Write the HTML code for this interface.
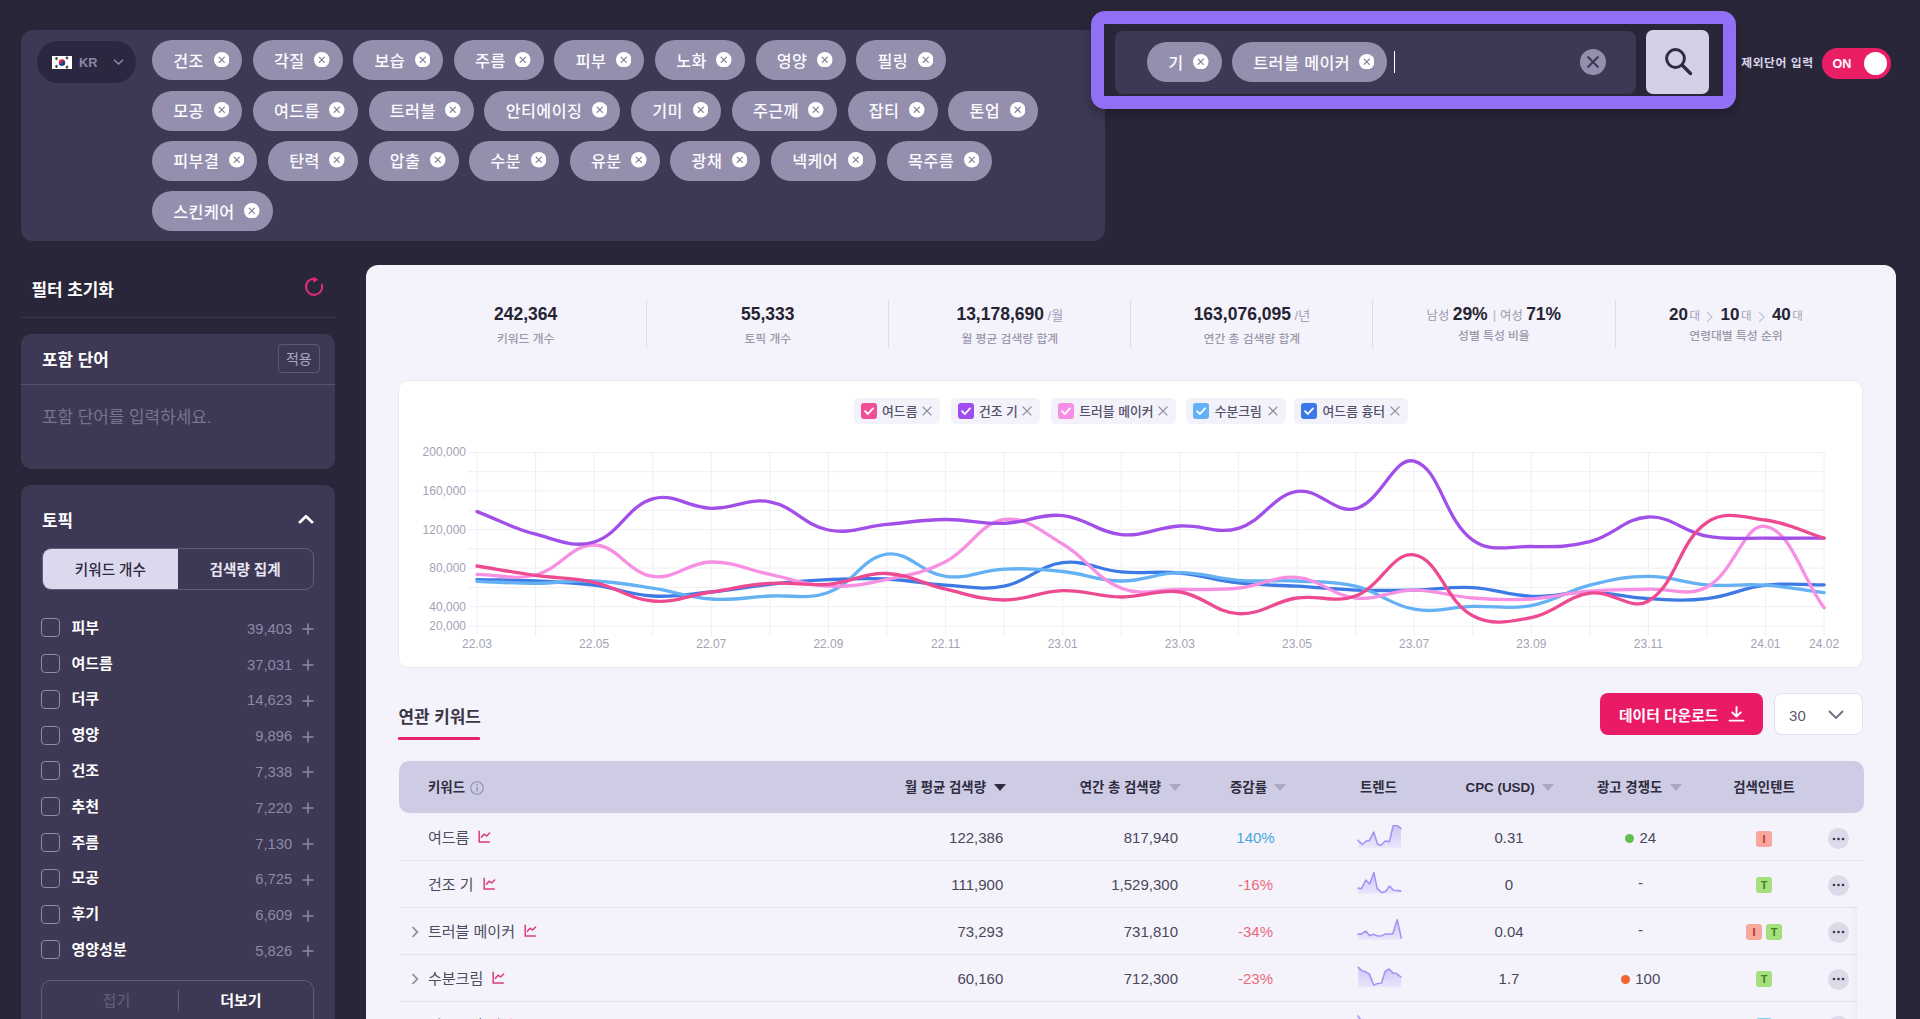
<!DOCTYPE html><html lang="ko"><head><meta charset="utf-8"><title>keyword</title><style>
*{box-sizing:border-box;margin:0;padding:0}
html,body{width:1920px;height:1019px;overflow:hidden}
body{background:#2a2639;font-family:"Liberation Sans", "Noto Sans CJK KR", sans-serif;position:relative;color:#fff}
body>*{position:absolute}
#kwpanel{left:21px;top:30px;width:1083.6px;height:211px;background:#3d3854;border-radius:12px}
#krpill{left:37px;top:40.5px;width:99px;height:42px;border-radius:21px;background:#2b2740}
#krpill .flag{position:absolute;left:14.5px;top:15px;width:20px;height:13px;line-height:0}
#krpill .kr{position:absolute;left:42px;top:13.8px;font-size:12.8px;line-height:18px;color:#8a85a5;font-weight:700;font-family:"Liberation Sans",sans-serif}
#krpill .chev{position:absolute;left:76px;top:18.5px}
.tag{position:absolute;height:40px;border-radius:20px;background:#958fae;display:flex;align-items:center;padding-left:21.3px;font-size:16.2px;letter-spacing:0.43px;font-weight:500;color:#fbfaff;white-space:nowrap;line-height:20px}
.tag span{display:block;position:relative;top:0.7px}
.tag svg{position:absolute;right:13px;top:11.7px}
#ring{left:1091px;top:11px;width:645px;height:97.5px;border-radius:14px;background:#9170f6;box-shadow:0 6px 12px rgba(0,0,0,.25)}
#ringin{left:1104.4px;top:24.2px;width:618.6px;height:71.4px;background:#2a2639}
#sinput{left:1114.5px;top:30.7px;width:521.5px;height:63.4px;border-radius:8px;background:#3d3854}
#cursor{left:1393.5px;top:51px;width:1.6px;height:21.5px;background:#fff}
#sclear{left:1579.5px;top:49px;width:26px;height:26px;line-height:0}
#sbtn{left:1646px;top:30.3px;width:63.2px;height:63.6px;border-radius:7px;background:#d4d1e7;padding:16.5px 0 0 17.5px;line-height:0}
#exlbl{left:1741.3px;top:53.6px;font-size:11.8px;letter-spacing:0.55px;line-height:18px;font-weight:700;color:#d9d6e8;white-space:nowrap}
#toggle{left:1822px;top:47.5px;width:69px;height:31.3px;border-radius:16px;background:#ea1e65}
#toggle span{position:absolute;left:10.5px;top:8px;font-size:12.6px;line-height:17px;font-weight:700;color:#fff;font-family:"Liberation Sans",sans-serif}
#toggle i{position:absolute;left:41.6px;top:4px;width:23.2px;height:23.2px;border-radius:50%;background:#fff}

#ftitle{left:31.5px;top:279px;font-size:16.9px;line-height:24px;font-weight:700;color:#fff;white-space:nowrap}
#freset{left:304px;top:277px;line-height:0}
#fline{left:20.5px;top:316.7px;width:315px;height:1px;background:#3b3751}
#incbox{left:21px;top:333.5px;width:313.8px;height:135.5px;border-radius:10px;background:#3d3854}
#incbox .hd{position:absolute;left:21px;top:15.5px;font-size:16.9px;line-height:24px;font-weight:700;color:#fff}
#incbox .apply{position:absolute;left:257px;top:10px;width:41.7px;height:29.4px;border:1px solid #5d5877;border-radius:4px;font-size:14px;line-height:29px;text-align:center;color:#aaa6c0}
#incbox .sep{position:absolute;left:0;top:50.6px;width:100%;height:1px;background:#57526f}
#incbox .ph{position:absolute;left:21px;top:72px;font-size:16.9px;line-height:24px;color:#78738f;white-space:nowrap}
#topic{left:21.3px;top:484.7px;width:313.5px;height:560px;border-radius:10px;background:#3d3854}
#tptitle{left:42px;top:510px;font-size:16.9px;line-height:24px;font-weight:700;color:#fff}
#tpchev{left:297.6px;top:513.6px}
#seg{left:42px;top:548px;width:271.5px;height:42px;border:1px solid #625d7c;border-radius:9px;overflow:hidden;display:flex}
#seg div{width:50%;height:100%;font-size:14.6px;line-height:43.5px;text-align:center;white-space:nowrap}
#seg .on{background:#dcd9ee;color:#2d2940;font-weight:500}
#seg .off{color:#e8e6f2;font-weight:700}
.trow{left:41px;width:273px;height:26px}
.trow .cb{position:absolute;left:0;top:3.5px;width:19px;height:19px;border:1.5px solid #8e89a8;border-radius:4px}
.trow b{position:absolute;left:30.5px;top:0;font-size:15px;line-height:26px;font-weight:700;color:#fff;white-space:nowrap}
.trow .num{position:absolute;right:21.8px;top:1px;font-size:14.8px;line-height:26px;color:#8e89a8}
.trow .plus{position:absolute;right:0.5px;top:8.5px}
#morebtn{left:41px;top:980px;width:272.5px;height:60px;border:1px solid #625d7c;border-radius:10px}
#morebtn i{position:absolute;left:136px;top:9px;width:1px;height:21px;background:#625d7c}
#morebtn span{position:absolute;top:7.6px;font-size:15px;line-height:24px;width:80px;text-align:center}
#morebtn .l{left:34.4px;color:#5f5a78;font-weight:500}
#morebtn .r{left:158.9px;color:#fff;font-weight:700}

#main{left:366.2px;top:265px;width:1529.7px;height:800px;border-radius:12px;background:#f4f3fb}
.stat{top:300px;width:242px;height:48px;text-align:center;color:#2a2838}
.stat .sv{position:absolute;left:0;top:3px;width:100%;font-size:17.5px;line-height:22px;white-space:nowrap}
.stat .sv b{font-weight:700;color:#262433}
.stat .sv b.k{font-size:17px}
.stat .sv small{font-size:13px;color:#a19fb2;font-weight:400}
.stat .sv .lt{font-size:12.3px;color:#9b99ab}
.stat .sv .bar{font-size:13px;color:#b4b2c4;margin:0 4px 0 5px;position:relative;top:-1px}
.stat .sv .dae{font-size:11.5px;color:#a3a1b3;margin-left:1.5px}
.stat .sv .gt{margin:0 7.4px 0 6px;position:relative;top:2.5px}
.stat .sl{position:absolute;left:0;width:100%;font-size:11.8px;line-height:16px;color:#9a98ac;font-weight:500;white-space:nowrap}
.vdiv{top:300px;width:1px;height:47.5px;background:#dddbe8}
#card{left:398.3px;top:380.3px;width:1465.1px;height:287.6px;background:#fff;border:1px solid #eae8f3;border-radius:10px}
.lg{top:397.8px;height:26.2px;border-radius:5px;background:#f3f2fa;display:flex;align-items:center;padding-left:7px;font-size:12.8px;font-weight:500;color:#54516a;white-space:nowrap}
.lg svg{flex:none}
.lg span{margin-left:5.3px;line-height:16px;position:relative;top:1px}
.lg .lx{position:absolute;right:8px;top:8.1px}
#chart{left:0;top:0;pointer-events:none}
#chart text{font-family:"Liberation Sans",sans-serif;font-size:12px;fill:#a4a2b5}
#chart .yl{text-anchor:end}
#chart .xl{text-anchor:middle}
#rktab{left:398.5px;top:705.5px;font-size:16.9px;line-height:24px;font-weight:700;color:#393648;white-space:nowrap}
#rkline{left:398px;top:737px;width:82px;height:3px;background:#e8226b;border-radius:1px}
#dlbtn{left:1600px;top:693.3px;width:163px;height:41.6px;border-radius:8px;background:#ea1a66;color:#fff;font-size:14.8px;font-weight:700;line-height:46.5px;padding-left:19px;white-space:nowrap}
#dlbtn svg{position:absolute;left:128px;top:13px}
#psel{left:1773.6px;top:693.3px;width:89.8px;height:41.6px;border-radius:8px;background:#fff;border:1px solid #e2e0ec}
#psel span{position:absolute;left:14.5px;top:11.5px;font-size:15px;line-height:20px;color:#5d5a70}
#psel svg{position:absolute;left:53.5px;top:16px}
#thead{left:398.5px;top:761.2px;width:1465.3px;height:51.8px;border-radius:10px;background:#cecce4}
.th{top:777.5px;height:20px;font-size:13.4px;line-height:20px;font-weight:700;color:#2f2c40;white-space:nowrap;display:flex;align-items:center}
.th.c{transform:translateX(-50%)}
.th .tri{margin-left:7.5px;flex:none}
.th .info{margin-left:5px;flex:none}
.tr{left:398.5px;width:1464px;height:47px}
.tr>*{position:absolute;top:0;line-height:47px;font-size:15px;color:#4a475a;white-space:nowrap}
.tr .exp{top:18px;left:12px}
.tr .kn{left:29.5px;color:#4e4b60}
.tr .kn .ci{margin-left:9px;vertical-align:0px}
.tr .n1{right:859.2px}
.tr .n2{right:684.5px}
.tr .pc{left:827px;width:60px;text-align:center}
.tr .pc.up{color:#47a6db}
.tr .pc.dn{color:#e86b7a}
.tr .sp{left:958px;top:10.5px;line-height:0}
.tr .cpc{left:1080px;width:61px;text-align:center}
.tr .cmp{left:1212px;width:60px;text-align:center}
.tr .cmp.dash{top:-1.6px}
.tr .cmp i{display:inline-block;width:9px;height:9px;border-radius:50%;margin-right:5.5px;position:relative;top:0.3px}
.tr .bds{left:1315px;width:101px;text-align:center;top:16.5px;line-height:16px;display:flex;justify-content:center;gap:4.3px}
.bdg{display:inline-block;width:15.8px;height:16px;border-radius:3px;font-size:11px;font-weight:700;line-height:16px;text-align:center;font-family:"Liberation Sans",sans-serif}
.bi{background:#f8a79c;color:#b4372c}
.bt{background:#a6e07d;color:#3f7f27}
.bb{background:#7fd0f0;color:#2a6e8c}
.tr .more{left:1429.3px;top:14.2px;width:20.8px;height:20.8px;border-radius:50%;background:#dcdae8;line-height:0;padding:7.4px 0 0 3.9px}
.rdiv{left:398.5px;height:1px;background:#e4e2ee}
#colshade{left:1849px;top:908px;width:8px;height:120px;background:linear-gradient(90deg,rgba(120,115,160,0) 0%,rgba(120,115,160,0.06) 100%)}
</style></head><body>
<svg width="0" height="0" style="position:absolute"><defs><linearGradient id="sg" x1="0" y1="0" x2="0" y2="1"><stop offset="0" stop-color="#cdc6fa"/><stop offset="1" stop-color="#e9e6fa"/></linearGradient></defs></svg>
<div id="kwpanel"></div>
<div id="krpill"><span class="flag"><svg width="20" height="13" viewBox="0 0 20 13"><rect width="20" height="13" fill="#fff"/><circle cx="10" cy="6.5" r="3.2" fill="#cd2e3a"/><path d="M6.8 6.5 a3.2 3.2 0 0 0 6.4 0 a1.6 1.6 0 0 0 -3.2 0 a1.6 1.6 0 0 1 -3.2 0z" fill="#0047a0"/><g stroke="#222" stroke-width="0.9"><path d="M3 2.6 l2 -1.4 M3.5 3.3 l2 -1.4 M4 4 l2 -1.4"/><path d="M14 1.2 l2 1.4 M14.5 0.5 l2 1.4 M13.5 1.9 l2 1.4"/><path d="M3 10.4 l2 1.4 M3.5 9.7 l2 1.4 M4 9 l2 1.4"/><path d="M14 11.8 l2 -1.4 M14.5 12.5 l2 -1.4 M13.5 11.1 l2 -1.4"/></g></svg></span><span class="kr">KR</span><svg class="chev" width="11" height="6" viewBox="0 0 11 6"><path d="M1 0.8 L5.5 5 L10 0.8" fill="none" stroke="#8f8aa8" stroke-width="1.5"/></svg></div>
<div class="tag" style="left:152.0px;top:40.0px;width:90.0px"><span>건조</span><svg width="15.5" height="15.5" viewBox="0 0 16 16"><circle cx="8" cy="8" r="8" fill="#fff"/><path d="M5.3 5.3 L10.7 10.7 M10.7 5.3 L5.3 10.7" stroke="#85819c" stroke-width="1.3" stroke-linecap="round"/></svg></div>
<div class="tag" style="left:252.6px;top:40.0px;width:90.0px"><span>각질</span><svg width="15.5" height="15.5" viewBox="0 0 16 16"><circle cx="8" cy="8" r="8" fill="#fff"/><path d="M5.3 5.3 L10.7 10.7 M10.7 5.3 L5.3 10.7" stroke="#85819c" stroke-width="1.3" stroke-linecap="round"/></svg></div>
<div class="tag" style="left:353.2px;top:40.0px;width:90.0px"><span>보습</span><svg width="15.5" height="15.5" viewBox="0 0 16 16"><circle cx="8" cy="8" r="8" fill="#fff"/><path d="M5.3 5.3 L10.7 10.7 M10.7 5.3 L5.3 10.7" stroke="#85819c" stroke-width="1.3" stroke-linecap="round"/></svg></div>
<div class="tag" style="left:453.8px;top:40.0px;width:90.0px"><span>주름</span><svg width="15.5" height="15.5" viewBox="0 0 16 16"><circle cx="8" cy="8" r="8" fill="#fff"/><path d="M5.3 5.3 L10.7 10.7 M10.7 5.3 L5.3 10.7" stroke="#85819c" stroke-width="1.3" stroke-linecap="round"/></svg></div>
<div class="tag" style="left:554.4px;top:40.0px;width:90.0px"><span>피부</span><svg width="15.5" height="15.5" viewBox="0 0 16 16"><circle cx="8" cy="8" r="8" fill="#fff"/><path d="M5.3 5.3 L10.7 10.7 M10.7 5.3 L5.3 10.7" stroke="#85819c" stroke-width="1.3" stroke-linecap="round"/></svg></div>
<div class="tag" style="left:654.9px;top:40.0px;width:90.0px"><span>노화</span><svg width="15.5" height="15.5" viewBox="0 0 16 16"><circle cx="8" cy="8" r="8" fill="#fff"/><path d="M5.3 5.3 L10.7 10.7 M10.7 5.3 L5.3 10.7" stroke="#85819c" stroke-width="1.3" stroke-linecap="round"/></svg></div>
<div class="tag" style="left:755.5px;top:40.0px;width:90.0px"><span>영양</span><svg width="15.5" height="15.5" viewBox="0 0 16 16"><circle cx="8" cy="8" r="8" fill="#fff"/><path d="M5.3 5.3 L10.7 10.7 M10.7 5.3 L5.3 10.7" stroke="#85819c" stroke-width="1.3" stroke-linecap="round"/></svg></div>
<div class="tag" style="left:856.1px;top:40.0px;width:90.0px"><span>필링</span><svg width="15.5" height="15.5" viewBox="0 0 16 16"><circle cx="8" cy="8" r="8" fill="#fff"/><path d="M5.3 5.3 L10.7 10.7 M10.7 5.3 L5.3 10.7" stroke="#85819c" stroke-width="1.3" stroke-linecap="round"/></svg></div>
<div class="tag" style="left:152.0px;top:90.5px;width:90.0px"><span>모공</span><svg width="15.5" height="15.5" viewBox="0 0 16 16"><circle cx="8" cy="8" r="8" fill="#fff"/><path d="M5.3 5.3 L10.7 10.7 M10.7 5.3 L5.3 10.7" stroke="#85819c" stroke-width="1.3" stroke-linecap="round"/></svg></div>
<div class="tag" style="left:252.6px;top:90.5px;width:105.3px"><span>여드름</span><svg width="15.5" height="15.5" viewBox="0 0 16 16"><circle cx="8" cy="8" r="8" fill="#fff"/><path d="M5.3 5.3 L10.7 10.7 M10.7 5.3 L5.3 10.7" stroke="#85819c" stroke-width="1.3" stroke-linecap="round"/></svg></div>
<div class="tag" style="left:368.5px;top:90.5px;width:105.3px"><span>트러블</span><svg width="15.5" height="15.5" viewBox="0 0 16 16"><circle cx="8" cy="8" r="8" fill="#fff"/><path d="M5.3 5.3 L10.7 10.7 M10.7 5.3 L5.3 10.7" stroke="#85819c" stroke-width="1.3" stroke-linecap="round"/></svg></div>
<div class="tag" style="left:484.4px;top:90.5px;width:136.0px"><span>안티에이징</span><svg width="15.5" height="15.5" viewBox="0 0 16 16"><circle cx="8" cy="8" r="8" fill="#fff"/><path d="M5.3 5.3 L10.7 10.7 M10.7 5.3 L5.3 10.7" stroke="#85819c" stroke-width="1.3" stroke-linecap="round"/></svg></div>
<div class="tag" style="left:631.0px;top:90.5px;width:90.0px"><span>기미</span><svg width="15.5" height="15.5" viewBox="0 0 16 16"><circle cx="8" cy="8" r="8" fill="#fff"/><path d="M5.3 5.3 L10.7 10.7 M10.7 5.3 L5.3 10.7" stroke="#85819c" stroke-width="1.3" stroke-linecap="round"/></svg></div>
<div class="tag" style="left:731.6px;top:90.5px;width:105.3px"><span>주근깨</span><svg width="15.5" height="15.5" viewBox="0 0 16 16"><circle cx="8" cy="8" r="8" fill="#fff"/><path d="M5.3 5.3 L10.7 10.7 M10.7 5.3 L5.3 10.7" stroke="#85819c" stroke-width="1.3" stroke-linecap="round"/></svg></div>
<div class="tag" style="left:847.5px;top:90.5px;width:90.0px"><span>잡티</span><svg width="15.5" height="15.5" viewBox="0 0 16 16"><circle cx="8" cy="8" r="8" fill="#fff"/><path d="M5.3 5.3 L10.7 10.7 M10.7 5.3 L5.3 10.7" stroke="#85819c" stroke-width="1.3" stroke-linecap="round"/></svg></div>
<div class="tag" style="left:948.1px;top:90.5px;width:90.0px"><span>톤업</span><svg width="15.5" height="15.5" viewBox="0 0 16 16"><circle cx="8" cy="8" r="8" fill="#fff"/><path d="M5.3 5.3 L10.7 10.7 M10.7 5.3 L5.3 10.7" stroke="#85819c" stroke-width="1.3" stroke-linecap="round"/></svg></div>
<div class="tag" style="left:152.0px;top:140.5px;width:105.3px"><span>피부결</span><svg width="15.5" height="15.5" viewBox="0 0 16 16"><circle cx="8" cy="8" r="8" fill="#fff"/><path d="M5.3 5.3 L10.7 10.7 M10.7 5.3 L5.3 10.7" stroke="#85819c" stroke-width="1.3" stroke-linecap="round"/></svg></div>
<div class="tag" style="left:267.9px;top:140.5px;width:90.0px"><span>탄력</span><svg width="15.5" height="15.5" viewBox="0 0 16 16"><circle cx="8" cy="8" r="8" fill="#fff"/><path d="M5.3 5.3 L10.7 10.7 M10.7 5.3 L5.3 10.7" stroke="#85819c" stroke-width="1.3" stroke-linecap="round"/></svg></div>
<div class="tag" style="left:368.5px;top:140.5px;width:90.0px"><span>압출</span><svg width="15.5" height="15.5" viewBox="0 0 16 16"><circle cx="8" cy="8" r="8" fill="#fff"/><path d="M5.3 5.3 L10.7 10.7 M10.7 5.3 L5.3 10.7" stroke="#85819c" stroke-width="1.3" stroke-linecap="round"/></svg></div>
<div class="tag" style="left:469.1px;top:140.5px;width:90.0px"><span>수분</span><svg width="15.5" height="15.5" viewBox="0 0 16 16"><circle cx="8" cy="8" r="8" fill="#fff"/><path d="M5.3 5.3 L10.7 10.7 M10.7 5.3 L5.3 10.7" stroke="#85819c" stroke-width="1.3" stroke-linecap="round"/></svg></div>
<div class="tag" style="left:569.7px;top:140.5px;width:90.0px"><span>유분</span><svg width="15.5" height="15.5" viewBox="0 0 16 16"><circle cx="8" cy="8" r="8" fill="#fff"/><path d="M5.3 5.3 L10.7 10.7 M10.7 5.3 L5.3 10.7" stroke="#85819c" stroke-width="1.3" stroke-linecap="round"/></svg></div>
<div class="tag" style="left:670.3px;top:140.5px;width:90.0px"><span>광채</span><svg width="15.5" height="15.5" viewBox="0 0 16 16"><circle cx="8" cy="8" r="8" fill="#fff"/><path d="M5.3 5.3 L10.7 10.7 M10.7 5.3 L5.3 10.7" stroke="#85819c" stroke-width="1.3" stroke-linecap="round"/></svg></div>
<div class="tag" style="left:770.9px;top:140.5px;width:105.3px"><span>넥케어</span><svg width="15.5" height="15.5" viewBox="0 0 16 16"><circle cx="8" cy="8" r="8" fill="#fff"/><path d="M5.3 5.3 L10.7 10.7 M10.7 5.3 L5.3 10.7" stroke="#85819c" stroke-width="1.3" stroke-linecap="round"/></svg></div>
<div class="tag" style="left:886.8px;top:140.5px;width:105.3px"><span>목주름</span><svg width="15.5" height="15.5" viewBox="0 0 16 16"><circle cx="8" cy="8" r="8" fill="#fff"/><path d="M5.3 5.3 L10.7 10.7 M10.7 5.3 L5.3 10.7" stroke="#85819c" stroke-width="1.3" stroke-linecap="round"/></svg></div>
<div class="tag" style="left:152.0px;top:191.0px;width:120.6px"><span>스킨케어</span><svg width="15.5" height="15.5" viewBox="0 0 16 16"><circle cx="8" cy="8" r="8" fill="#fff"/><path d="M5.3 5.3 L10.7 10.7 M10.7 5.3 L5.3 10.7" stroke="#85819c" stroke-width="1.3" stroke-linecap="round"/></svg></div>
<div id="ring"></div><div id="ringin"></div><div id="sinput"></div>
<div class="tag" style="left:1147.0px;top:42.0px;width:74.7px"><span>기</span><svg width="15.5" height="15.5" viewBox="0 0 16 16"><circle cx="8" cy="8" r="8" fill="#fff"/><path d="M5.3 5.3 L10.7 10.7 M10.7 5.3 L5.3 10.7" stroke="#85819c" stroke-width="1.3" stroke-linecap="round"/></svg></div>
<div class="tag" style="left:1232.0px;top:42.0px;width:155.0px"><span>트러블 메이커</span><svg width="15.5" height="15.5" viewBox="0 0 16 16"><circle cx="8" cy="8" r="8" fill="#fff"/><path d="M5.3 5.3 L10.7 10.7 M10.7 5.3 L5.3 10.7" stroke="#85819c" stroke-width="1.3" stroke-linecap="round"/></svg></div>
<div id="cursor"></div>
<div id="sclear"><svg width="26" height="26" viewBox="0 0 26 26"><circle cx="13" cy="13" r="13" fill="#958fae"/><path d="M7.5 7.5 L18.5 18.5 M18.5 7.5 L7.5 18.5" stroke="#3d3854" stroke-width="2"/></svg></div>
<div id="sbtn"><svg width="30" height="30" viewBox="0 0 30 30"><circle cx="11.5" cy="11.5" r="8.9" fill="none" stroke="#2f2b42" stroke-width="3"/><path d="M18.3 18.3 L26.5 26.5" stroke="#2f2b42" stroke-width="3.4" stroke-linecap="round"/></svg></div>
<div id="exlbl">제외단어 입력</div>
<div id="toggle"><span>ON</span><i></i></div>
<div id="ftitle">필터 초기화</div>
<div id="freset"><svg width="20" height="20" viewBox="0 0 20 20"><path d="M10.1 1.7 A8.1 8.1 0 1 0 17.95 7.85" fill="none" stroke="#d92d74" stroke-width="2.1" stroke-linecap="round"/><path d="M9.6 0.2 L13.9 2.7 L9.6 5.1 Z" fill="#d92d74" stroke="#d92d74" stroke-width="0.8" stroke-linejoin="round"/></svg></div>
<div id="fline"></div>
<div id="incbox"><div class="hd">포함 단어</div><div class="apply">적용</div><div class="sep"></div><div class="ph">포함 단어를 입력하세요.</div></div>
<div id="topic"></div>
<div id="tptitle">토픽</div>
<svg id="tpchev" width="16" height="10" viewBox="0 0 16 10"><path d="M1.8 8.2 L8 2.2 L14.2 8.2" fill="none" stroke="#fff" stroke-width="2.6" stroke-linecap="round" stroke-linejoin="round"/></svg>
<div id="seg"><div class="on">키워드 개수</div><div class="off">검색량 집계</div></div>
<div class="trow" style="top:614.7px"><i class="cb"></i><b>피부</b><span class="num">39,403</span><svg class="plus" width="12" height="12" viewBox="0 0 12 12"><path d="M6 0.5 V11.5 M0.5 6 H11.5" stroke="#8e89a8" stroke-width="1.5"/></svg></div>
<div class="trow" style="top:650.5px"><i class="cb"></i><b>여드름</b><span class="num">37,031</span><svg class="plus" width="12" height="12" viewBox="0 0 12 12"><path d="M6 0.5 V11.5 M0.5 6 H11.5" stroke="#8e89a8" stroke-width="1.5"/></svg></div>
<div class="trow" style="top:686.3px"><i class="cb"></i><b>더쿠</b><span class="num">14,623</span><svg class="plus" width="12" height="12" viewBox="0 0 12 12"><path d="M6 0.5 V11.5 M0.5 6 H11.5" stroke="#8e89a8" stroke-width="1.5"/></svg></div>
<div class="trow" style="top:722.1px"><i class="cb"></i><b>영양</b><span class="num">9,896</span><svg class="plus" width="12" height="12" viewBox="0 0 12 12"><path d="M6 0.5 V11.5 M0.5 6 H11.5" stroke="#8e89a8" stroke-width="1.5"/></svg></div>
<div class="trow" style="top:757.9px"><i class="cb"></i><b>건조</b><span class="num">7,338</span><svg class="plus" width="12" height="12" viewBox="0 0 12 12"><path d="M6 0.5 V11.5 M0.5 6 H11.5" stroke="#8e89a8" stroke-width="1.5"/></svg></div>
<div class="trow" style="top:793.7px"><i class="cb"></i><b>추천</b><span class="num">7,220</span><svg class="plus" width="12" height="12" viewBox="0 0 12 12"><path d="M6 0.5 V11.5 M0.5 6 H11.5" stroke="#8e89a8" stroke-width="1.5"/></svg></div>
<div class="trow" style="top:829.5px"><i class="cb"></i><b>주름</b><span class="num">7,130</span><svg class="plus" width="12" height="12" viewBox="0 0 12 12"><path d="M6 0.5 V11.5 M0.5 6 H11.5" stroke="#8e89a8" stroke-width="1.5"/></svg></div>
<div class="trow" style="top:865.3px"><i class="cb"></i><b>모공</b><span class="num">6,725</span><svg class="plus" width="12" height="12" viewBox="0 0 12 12"><path d="M6 0.5 V11.5 M0.5 6 H11.5" stroke="#8e89a8" stroke-width="1.5"/></svg></div>
<div class="trow" style="top:901.1px"><i class="cb"></i><b>후기</b><span class="num">6,609</span><svg class="plus" width="12" height="12" viewBox="0 0 12 12"><path d="M6 0.5 V11.5 M0.5 6 H11.5" stroke="#8e89a8" stroke-width="1.5"/></svg></div>
<div class="trow" style="top:936.9px"><i class="cb"></i><b>영양성분</b><span class="num">5,826</span><svg class="plus" width="12" height="12" viewBox="0 0 12 12"><path d="M6 0.5 V11.5 M0.5 6 H11.5" stroke="#8e89a8" stroke-width="1.5"/></svg></div>
<div id="morebtn"><span class="l">접기</span><i></i><span class="r">더보기</span></div>
<div id="main"></div>
<div class="stat" style="left:404.7px"><div class="sv"><b>242,364</b></div><div class="sl" style="top:31px">키워드 개수</div></div>
<div class="stat" style="left:646.8px"><div class="sv"><b>55,333</b></div><div class="sl" style="top:31px">토픽 개수</div></div>
<div class="vdiv" style="left:646.2px"></div>
<div class="stat" style="left:888.8px"><div class="sv"><b>13,178,690</b><small> /월</small></div><div class="sl" style="top:31px">월 평균 검색량 합계</div></div>
<div class="vdiv" style="left:888.3px"></div>
<div class="stat" style="left:1130.9px"><div class="sv"><b>163,076,095</b><small> /년</small></div><div class="sl" style="top:31px">연간 총 검색량 합계</div></div>
<div class="vdiv" style="left:1130.4px"></div>
<div class="stat" style="left:1372.9px"><div class="sv"><span class="lt">남성 </span><b>29%</b><span class="bar">|</span><span class="lt">여성 </span><b>71%</b></div><div class="sl" style="top:28px">성별 특성 비율</div></div>
<div class="vdiv" style="left:1372.4px"></div>
<div class="stat" style="left:1615.0px"><div class="sv"><b class="k">20</b><span class="dae">대</span><svg class="gt" width="7" height="12" viewBox="0 0 7 12"><path d="M1 1 L6 6 L1 11" fill="none" stroke="#c6c4d4" stroke-width="1.3"/></svg><b class="k">10</b><span class="dae">대</span><svg class="gt" width="7" height="12" viewBox="0 0 7 12"><path d="M1 1 L6 6 L1 11" fill="none" stroke="#c6c4d4" stroke-width="1.3"/></svg><b class="k">40</b><span class="dae">대</span></div><div class="sl" style="top:28px">연령대별 특성 순위</div></div>
<div class="vdiv" style="left:1614.5px"></div>
<div id="card"></div>
<div class="lg" style="left:853.8px;width:86.2px"><svg width="16" height="16" viewBox="0 0 16 16"><rect width="16" height="16" rx="3" fill="#ef4f98"/><path d="M4 8.2 L6.9 11 L12 5.4" fill="none" stroke="#fff" stroke-width="1.8" stroke-linecap="round" stroke-linejoin="round"/></svg><span>여드름</span><svg class="lx" width="10" height="10" viewBox="0 0 10 10"><path d="M0.6 0.6 L9.4 9.4 M9.4 0.6 L0.6 9.4" stroke="#8f8ca0" stroke-width="1.3"/></svg></div>
<div class="lg" style="left:950.6px;width:89.9px"><svg width="16" height="16" viewBox="0 0 16 16"><rect width="16" height="16" rx="3" fill="#9f4df0"/><path d="M4 8.2 L6.9 11 L12 5.4" fill="none" stroke="#fff" stroke-width="1.8" stroke-linecap="round" stroke-linejoin="round"/></svg><span>건조 기</span><svg class="lx" width="10" height="10" viewBox="0 0 10 10"><path d="M0.6 0.6 L9.4 9.4 M9.4 0.6 L0.6 9.4" stroke="#8f8ca0" stroke-width="1.3"/></svg></div>
<div class="lg" style="left:1051.0px;width:125.2px"><svg width="16" height="16" viewBox="0 0 16 16"><rect width="16" height="16" rx="3" fill="#f78ee6"/><path d="M4 8.2 L6.9 11 L12 5.4" fill="none" stroke="#fff" stroke-width="1.8" stroke-linecap="round" stroke-linejoin="round"/></svg><span>트러블 메이커</span><svg class="lx" width="10" height="10" viewBox="0 0 10 10"><path d="M0.6 0.6 L9.4 9.4 M9.4 0.6 L0.6 9.4" stroke="#8f8ca0" stroke-width="1.3"/></svg></div>
<div class="lg" style="left:1186.4px;width:99.4px"><svg width="16" height="16" viewBox="0 0 16 16"><rect width="16" height="16" rx="3" fill="#62b0f5"/><path d="M4 8.2 L6.9 11 L12 5.4" fill="none" stroke="#fff" stroke-width="1.8" stroke-linecap="round" stroke-linejoin="round"/></svg><span>수분크림</span><svg class="lx" width="10" height="10" viewBox="0 0 10 10"><path d="M0.6 0.6 L9.4 9.4 M9.4 0.6 L0.6 9.4" stroke="#8f8ca0" stroke-width="1.3"/></svg></div>
<div class="lg" style="left:1294.3px;width:114.2px"><svg width="16" height="16" viewBox="0 0 16 16"><rect width="16" height="16" rx="3" fill="#3a78e8"/><path d="M4 8.2 L6.9 11 L12 5.4" fill="none" stroke="#fff" stroke-width="1.8" stroke-linecap="round" stroke-linejoin="round"/></svg><span>여드름 흉터</span><svg class="lx" width="10" height="10" viewBox="0 0 10 10"><path d="M0.6 0.6 L9.4 9.4 M9.4 0.6 L0.6 9.4" stroke="#8f8ca0" stroke-width="1.3"/></svg></div>
<svg id="chart" width="1920" height="1019" viewBox="0 0 1920 1019"><line x1="468" y1="626.0" x2="1826" y2="626.0" stroke="#efeef5" stroke-width="1"/><line x1="468" y1="606.7" x2="1826" y2="606.7" stroke="#efeef5" stroke-width="1"/><line x1="468" y1="587.4" x2="1826" y2="587.4" stroke="#efeef5" stroke-width="1"/><line x1="468" y1="568.1" x2="1826" y2="568.1" stroke="#efeef5" stroke-width="1"/><line x1="468" y1="548.8" x2="1826" y2="548.8" stroke="#efeef5" stroke-width="1"/><line x1="468" y1="529.6" x2="1826" y2="529.6" stroke="#efeef5" stroke-width="1"/><line x1="468" y1="510.3" x2="1826" y2="510.3" stroke="#efeef5" stroke-width="1"/><line x1="468" y1="491.0" x2="1826" y2="491.0" stroke="#efeef5" stroke-width="1"/><line x1="468" y1="471.7" x2="1826" y2="471.7" stroke="#efeef5" stroke-width="1"/><line x1="468" y1="452.4" x2="1826" y2="452.4" stroke="#efeef5" stroke-width="1"/><line x1="477.0" y1="452" x2="477.0" y2="636" stroke="#f0eff5" stroke-width="1"/><line x1="535.6" y1="452" x2="535.6" y2="636" stroke="#f0eff5" stroke-width="1"/><line x1="594.1" y1="452" x2="594.1" y2="636" stroke="#f0eff5" stroke-width="1"/><line x1="652.7" y1="452" x2="652.7" y2="636" stroke="#f0eff5" stroke-width="1"/><line x1="711.3" y1="452" x2="711.3" y2="636" stroke="#f0eff5" stroke-width="1"/><line x1="769.9" y1="452" x2="769.9" y2="636" stroke="#f0eff5" stroke-width="1"/><line x1="828.4" y1="452" x2="828.4" y2="636" stroke="#f0eff5" stroke-width="1"/><line x1="887.0" y1="452" x2="887.0" y2="636" stroke="#f0eff5" stroke-width="1"/><line x1="945.6" y1="452" x2="945.6" y2="636" stroke="#f0eff5" stroke-width="1"/><line x1="1004.1" y1="452" x2="1004.1" y2="636" stroke="#f0eff5" stroke-width="1"/><line x1="1062.7" y1="452" x2="1062.7" y2="636" stroke="#f0eff5" stroke-width="1"/><line x1="1121.3" y1="452" x2="1121.3" y2="636" stroke="#f0eff5" stroke-width="1"/><line x1="1179.8" y1="452" x2="1179.8" y2="636" stroke="#f0eff5" stroke-width="1"/><line x1="1238.4" y1="452" x2="1238.4" y2="636" stroke="#f0eff5" stroke-width="1"/><line x1="1297.0" y1="452" x2="1297.0" y2="636" stroke="#f0eff5" stroke-width="1"/><line x1="1355.5" y1="452" x2="1355.5" y2="636" stroke="#f0eff5" stroke-width="1"/><line x1="1414.1" y1="452" x2="1414.1" y2="636" stroke="#f0eff5" stroke-width="1"/><line x1="1472.7" y1="452" x2="1472.7" y2="636" stroke="#f0eff5" stroke-width="1"/><line x1="1531.3" y1="452" x2="1531.3" y2="636" stroke="#f0eff5" stroke-width="1"/><line x1="1589.8" y1="452" x2="1589.8" y2="636" stroke="#f0eff5" stroke-width="1"/><line x1="1648.4" y1="452" x2="1648.4" y2="636" stroke="#f0eff5" stroke-width="1"/><line x1="1707.0" y1="452" x2="1707.0" y2="636" stroke="#f0eff5" stroke-width="1"/><line x1="1765.5" y1="452" x2="1765.5" y2="636" stroke="#f0eff5" stroke-width="1"/><line x1="1824.1" y1="452" x2="1824.1" y2="636" stroke="#f0eff5" stroke-width="1"/><text x="466" y="456.4" class="yl">200,000</text><text x="466" y="495.0" class="yl">160,000</text><text x="466" y="533.6" class="yl">120,000</text><text x="466" y="572.1" class="yl">80,000</text><text x="466" y="610.7" class="yl">40,000</text><text x="466" y="630.0" class="yl">20,000</text><text x="477.0" y="647.5" class="xl">22.03</text><text x="594.1" y="647.5" class="xl">22.05</text><text x="711.3" y="647.5" class="xl">22.07</text><text x="828.4" y="647.5" class="xl">22.09</text><text x="945.6" y="647.5" class="xl">22.11</text><text x="1062.7" y="647.5" class="xl">23.01</text><text x="1179.8" y="647.5" class="xl">23.03</text><text x="1297.0" y="647.5" class="xl">23.05</text><text x="1414.1" y="647.5" class="xl">23.07</text><text x="1531.3" y="647.5" class="xl">23.09</text><text x="1648.4" y="647.5" class="xl">23.11</text><text x="1765.5" y="647.5" class="xl">24.01</text><text x="1824.1" y="647.5" class="xl">24.02</text><path d="M477.0 579.7 C500.4 580.2 512.2 579.9 535.6 581.0 C559.0 582.1 570.9 582.2 594.1 585.2 C617.7 588.2 629.1 594.6 652.7 596.0 C676.0 597.4 687.9 594.3 711.3 592.0 C734.8 589.7 746.4 586.8 769.9 584.3 C793.2 581.8 805.0 580.8 828.4 579.7 C851.8 578.6 863.6 577.9 887.0 579.0 C910.5 580.1 922.1 583.8 945.6 585.2 C968.9 586.6 981.6 590.5 1004.1 586.2 C1028.4 581.5 1038.5 565.6 1062.7 562.7 C1085.4 559.9 1097.7 569.8 1121.3 571.9 C1144.6 573.9 1156.6 570.8 1179.8 573.0 C1203.4 575.2 1214.8 580.2 1238.4 582.9 C1261.7 585.5 1273.6 584.8 1297.0 586.2 C1320.4 587.6 1332.1 589.3 1355.5 590.1 C1379.0 590.9 1390.7 590.6 1414.1 590.1 C1437.6 589.6 1449.4 586.4 1472.7 587.6 C1496.2 588.8 1507.7 595.4 1531.3 596.3 C1554.6 597.2 1566.4 591.6 1589.8 592.1 C1613.3 592.6 1624.9 597.3 1648.4 598.6 C1671.8 599.9 1683.8 601.2 1707.0 598.6 C1730.7 595.9 1741.8 588.0 1765.5 585.2 C1788.7 582.5 1800.7 585.0 1824.1 584.8" fill="none" stroke="#3d7ae6" stroke-width="3.3" stroke-linecap="round" stroke-linejoin="round"/><path d="M477.0 581.3 C500.4 582.1 512.1 583.4 535.6 583.3 C559.0 583.2 570.8 580.0 594.1 581.0 C617.6 582.0 629.4 584.6 652.7 588.2 C676.2 591.8 687.7 597.4 711.3 599.0 C734.5 600.5 746.4 597.3 769.9 596.0 C793.3 594.7 807.1 600.1 828.4 592.5 C853.9 583.4 862.3 557.6 887.0 554.2 C909.1 551.2 921.4 573.3 945.6 576.4 C968.3 579.3 980.6 570.1 1004.1 569.1 C1027.5 568.1 1039.4 569.1 1062.7 571.5 C1086.3 573.9 1097.8 580.8 1121.3 581.0 C1144.7 581.2 1156.4 572.8 1179.8 572.7 C1203.2 572.6 1214.9 578.6 1238.4 580.3 C1261.7 582.0 1273.6 579.8 1297.0 581.0 C1320.5 582.2 1332.9 580.8 1355.5 586.2 C1379.8 592.0 1389.9 605.0 1414.1 609.2 C1436.7 613.1 1449.2 607.1 1472.7 606.4 C1496.1 605.7 1508.5 609.7 1531.3 605.6 C1555.4 601.2 1565.9 591.2 1589.8 585.2 C1612.7 579.5 1625.0 576.5 1648.4 576.4 C1671.8 576.3 1683.4 583.0 1707.0 584.8 C1730.3 586.6 1742.2 583.6 1765.5 585.2 C1789.1 586.8 1800.7 589.7 1824.1 592.7" fill="none" stroke="#64b1f3" stroke-width="3.3" stroke-linecap="round" stroke-linejoin="round"/><path d="M477.0 574.4 C500.4 574.6 513.5 580.5 535.6 575.0 C560.4 568.8 570.8 544.7 594.1 545.0 C617.7 545.3 628.1 572.8 652.7 576.4 C675.0 579.6 687.8 562.4 711.3 562.0 C734.6 561.6 746.4 569.6 769.9 574.4 C793.3 579.2 804.8 585.2 828.4 586.2 C851.7 587.2 864.0 584.2 887.0 579.4 C910.9 574.4 924.1 572.7 945.6 561.7 C970.9 548.7 979.2 523.3 1004.1 519.5 C1026.1 516.2 1041.0 531.3 1062.7 544.0 C1087.8 558.7 1095.2 578.1 1121.3 588.2 C1142.1 596.3 1156.4 589.4 1179.8 589.4 C1203.3 589.4 1215.2 590.6 1238.4 588.2 C1262.0 585.8 1274.0 575.5 1297.0 577.4 C1320.9 579.4 1331.5 595.4 1355.5 598.0 C1378.4 600.5 1390.7 590.1 1414.1 590.1 C1437.5 590.1 1449.2 596.2 1472.7 598.0 C1496.0 599.8 1507.9 600.4 1531.3 599.0 C1554.8 597.6 1566.3 593.1 1589.8 591.1 C1613.2 589.1 1625.0 590.0 1648.4 589.2 C1671.8 588.4 1687.8 597.3 1707.0 587.0 C1734.6 572.2 1744.1 522.6 1765.5 526.4 C1791.0 530.9 1800.7 575.2 1824.1 607.8" fill="none" stroke="#f78fe3" stroke-width="3.3" stroke-linecap="round" stroke-linejoin="round"/><path d="M477.0 511.6 C500.4 520.6 511.4 527.9 535.6 534.2 C558.3 540.1 573.1 548.3 594.1 542.0 C620.0 534.2 626.9 506.3 652.7 498.9 C673.8 492.8 687.8 507.7 711.3 508.3 C734.6 508.9 747.6 497.7 769.9 501.8 C794.4 506.4 803.8 525.3 828.4 530.0 C850.7 534.3 863.5 526.5 887.0 524.4 C910.4 522.3 922.1 519.7 945.6 519.5 C969.0 519.3 980.8 524.2 1004.1 523.4 C1027.6 522.6 1039.8 513.4 1062.7 515.6 C1086.6 517.9 1097.4 532.5 1121.3 534.6 C1144.2 536.6 1156.3 527.3 1179.8 526.0 C1203.2 524.7 1216.9 534.6 1238.4 528.3 C1263.8 520.8 1272.1 495.6 1297.0 491.4 C1318.9 487.7 1334.6 514.1 1355.5 508.7 C1381.4 502.0 1393.8 455.7 1414.1 461.2 C1440.6 468.3 1443.4 518.8 1472.7 540.1 C1490.3 552.9 1507.8 546.2 1531.3 546.5 C1554.7 546.8 1567.3 547.4 1589.8 541.7 C1614.2 535.6 1624.6 518.1 1648.4 517.0 C1671.5 515.9 1683.0 531.9 1707.0 536.2 C1729.8 540.3 1742.1 537.7 1765.5 538.1 C1789.0 538.5 1800.7 538.1 1824.1 538.1" fill="none" stroke="#a24ee9" stroke-width="3.3" stroke-linecap="round" stroke-linejoin="round"/><path d="M477.0 566.0 C500.4 569.8 512.1 572.1 535.6 575.4 C558.9 578.7 571.2 577.3 594.1 582.3 C618.1 587.5 628.9 599.0 652.7 601.0 C675.7 602.9 687.8 595.5 711.3 592.0 C734.7 588.5 746.3 584.8 769.9 583.3 C793.2 581.8 805.2 586.2 828.4 584.3 C852.0 582.3 863.8 572.5 887.0 573.5 C910.6 574.5 921.9 583.9 945.6 589.2 C968.8 594.5 980.7 599.7 1004.1 600.0 C1027.5 600.3 1039.2 591.3 1062.7 590.7 C1086.0 590.1 1097.8 596.7 1121.3 597.0 C1144.7 597.3 1157.1 588.8 1179.8 592.0 C1204.0 595.4 1214.6 612.5 1238.4 613.7 C1261.5 614.9 1273.2 601.6 1297.0 598.0 C1320.0 594.5 1334.5 603.8 1355.5 596.0 C1381.3 586.5 1392.6 551.2 1414.1 554.8 C1439.5 559.1 1445.0 600.9 1472.7 615.7 C1491.9 626.0 1508.8 621.9 1531.3 617.6 C1555.6 612.9 1565.6 596.5 1589.8 593.1 C1612.4 589.9 1630.8 611.6 1648.4 601.0 C1677.6 583.4 1677.6 542.7 1707.0 522.4 C1724.5 510.3 1742.6 516.9 1765.5 520.0 C1789.5 523.2 1800.7 530.9 1824.1 538.1" fill="none" stroke="#ee4a91" stroke-width="3.3" stroke-linecap="round" stroke-linejoin="round"/></svg>
<div id="rktab">연관 키워드</div><div id="rkline"></div>
<div id="dlbtn">데이터 다운로드<svg width="17" height="16" viewBox="0 0 17 16"><path d="M8.5 1 V10.5 M4.2 6.4 L8.5 10.7 L12.8 6.4 M1.5 14.6 H15.5" fill="none" stroke="#fff" stroke-width="1.9" stroke-linecap="round" stroke-linejoin="round"/></svg></div>
<div id="psel"><span>30</span><svg width="16" height="9" viewBox="0 0 16 9"><path d="M1 1 L8 8 L15 1" fill="none" stroke="#6f6c82" stroke-width="1.8"/></svg></div>
<div id="thead"></div>
<div class="th" style="left:428px">키워드<svg class="info" width="14" height="14" viewBox="0 0 14 14"><circle cx="7" cy="7" r="6.3" fill="none" stroke="#8f8ca6" stroke-width="1.1"/><path d="M7 6 V10.4" stroke="#8f8ca6" stroke-width="1.2"/><circle cx="7" cy="4.1" r="0.8" fill="#8f8ca6"/></svg></div>
<div class="th r" style="right:914.5px">월 평균 검색량<svg class="tri" width="12" height="7" viewBox="0 0 12 7"><path d="M0 0 H12 L6 7 Z" fill="#2f2c40"/></svg></div>
<div class="th r" style="right:739.5px">연간 총 검색량<svg class="tri" width="12" height="7" viewBox="0 0 12 7"><path d="M0 0 H12 L6 7 Z" fill="#a9a7c2"/></svg></div>
<div class="th" style="left:1230px">증감률<svg class="tri" width="12" height="7" viewBox="0 0 12 7"><path d="M0 0 H12 L6 7 Z" fill="#a9a7c2"/></svg></div>
<div class="th c" style="left:1378.5px">트렌드</div>
<div class="th" style="left:1465.5px">CPC (USD)<svg class="tri" width="12" height="7" viewBox="0 0 12 7"><path d="M0 0 H12 L6 7 Z" fill="#a9a7c2"/></svg></div>
<div class="th" style="left:1597px">광고 경쟁도<svg class="tri" width="12" height="7" viewBox="0 0 12 7"><path d="M0 0 H12 L6 7 Z" fill="#a9a7c2"/></svg></div>
<div class="th c" style="left:1764px">검색인텐트</div>
<div class="tr" style="top:814.0px">
<span class="kn">여드름<svg class="ci" width="13" height="13" viewBox="0 0 13 13"><path d="M1.2 0.8 V12 H11.8" fill="none" stroke="#d83b7d" stroke-width="1.5"/><path d="M3.4 7.2 L6.1 4.2 L8.6 6.0 L11.6 3.0" fill="none" stroke="#d83b7d" stroke-width="1.5" stroke-linejoin="round" stroke-linecap="round"/></svg></span>
<span class="n1">122,386</span><span class="n2">817,940</span>
<span class="pc up">140%</span>
<span class="sp"><svg class="spk" width="46" height="24" viewBox="0 0 46 24"><path d="M1.0 15.2 L5.3 19.5 L9.2 16.0 L12.3 15.6 L16.7 7.0 L20.6 19.2 L24.1 20.3 L28.1 16.0 L32.4 16.6 L36.1 0.9 L39.8 0.3 L44.0 3.5 L44.0 22.7 L1.0 22.7 Z" fill="url(#sg)"/><path d="M1.0 15.2 L5.3 19.5 L9.2 16.0 L12.3 15.6 L16.7 7.0 L20.6 19.2 L24.1 20.3 L28.1 16.0 L32.4 16.6 L36.1 0.9 L39.8 0.3 L44.0 3.5" fill="none" stroke="#a197f1" stroke-width="1.6" stroke-linejoin="round" stroke-linecap="round"/></svg></span>
<span class="cpc">0.31</span>
<span class="cmp"><i style="background:#5ec04c"></i>24</span>
<span class="bds"><span class="bdg bi">I</span></span>
<span class="more"><svg width="13" height="4" viewBox="0 0 13 4"><circle cx="2" cy="2" r="1.3" fill="#3a3748"/><circle cx="6.5" cy="2" r="1.3" fill="#3a3748"/><circle cx="11" cy="2" r="1.3" fill="#3a3748"/></svg></span>
</div>
<div class="rdiv" style="top:859.8px;width:1464px"></div>
<div class="tr" style="top:860.9px">
<span class="kn">건조 기<svg class="ci" width="13" height="13" viewBox="0 0 13 13"><path d="M1.2 0.8 V12 H11.8" fill="none" stroke="#d83b7d" stroke-width="1.5"/><path d="M3.4 7.2 L6.1 4.2 L8.6 6.0 L11.6 3.0" fill="none" stroke="#d83b7d" stroke-width="1.5" stroke-linejoin="round" stroke-linecap="round"/></svg></span>
<span class="n1">111,900</span><span class="n2">1,529,300</span>
<span class="pc dn">-16%</span>
<span class="sp"><svg class="spk" width="46" height="24" viewBox="0 0 46 24"><path d="M1.2 17.1 L4.5 17.7 L8.8 9.1 L12.7 13.0 L16.9 1.6 L20.2 17.7 L24.9 21.6 L28.4 20.4 L32.6 15.1 L36.3 19.3 L43.8 19.9 L43.8 22.5 L1.2 22.5 Z" fill="url(#sg)"/><path d="M1.2 17.1 L4.5 17.7 L8.8 9.1 L12.7 13.0 L16.9 1.6 L20.2 17.7 L24.9 21.6 L28.4 20.4 L32.6 15.1 L36.3 19.3 L43.8 19.9" fill="none" stroke="#a197f1" stroke-width="1.6" stroke-linejoin="round" stroke-linecap="round"/></svg></span>
<span class="cpc">0</span>
<span class="cmp dash">-</span>
<span class="bds"><span class="bdg bt">T</span></span>
<span class="more"><svg width="13" height="4" viewBox="0 0 13 4"><circle cx="2" cy="2" r="1.3" fill="#3a3748"/><circle cx="6.5" cy="2" r="1.3" fill="#3a3748"/><circle cx="11" cy="2" r="1.3" fill="#3a3748"/></svg></span>
</div>
<div class="rdiv" style="top:906.7px;width:1459px"></div>
<div class="tr" style="top:907.8px">
<svg class="exp" width="8" height="12" viewBox="0 0 8 12"><path d="M1.5 1 L6.3 6 L1.5 11" fill="none" stroke="#8e8ba5" stroke-width="1.8"/></svg>
<span class="kn">트러블 메이커<svg class="ci" width="13" height="13" viewBox="0 0 13 13"><path d="M1.2 0.8 V12 H11.8" fill="none" stroke="#d83b7d" stroke-width="1.5"/><path d="M3.4 7.2 L6.1 4.2 L8.6 6.0 L11.6 3.0" fill="none" stroke="#d83b7d" stroke-width="1.5" stroke-linejoin="round" stroke-linecap="round"/></svg></span>
<span class="n1">73,293</span><span class="n2">731,810</span>
<span class="pc dn">-34%</span>
<span class="sp"><svg class="spk" width="46" height="24" viewBox="0 0 46 24"><path d="M1.0 16.0 L4.1 16.1 L8.8 13.1 L12.9 17.8 L16.3 16.2 L20.6 18.0 L24.1 18.0 L28.1 16.1 L35.7 16.0 L40.2 1.7 L44.3 20.0 L44.3 21.7 L1.0 21.7 Z" fill="url(#sg)"/><path d="M1.0 16.0 L4.1 16.1 L8.8 13.1 L12.9 17.8 L16.3 16.2 L20.6 18.0 L24.1 18.0 L28.1 16.1 L35.7 16.0 L40.2 1.7 L44.3 20.0" fill="none" stroke="#a197f1" stroke-width="1.6" stroke-linejoin="round" stroke-linecap="round"/></svg></span>
<span class="cpc">0.04</span>
<span class="cmp dash">-</span>
<span class="bds"><span class="bdg bi">I</span><span class="bdg bt">T</span></span>
<span class="more"><svg width="13" height="4" viewBox="0 0 13 4"><circle cx="2" cy="2" r="1.3" fill="#3a3748"/><circle cx="6.5" cy="2" r="1.3" fill="#3a3748"/><circle cx="11" cy="2" r="1.3" fill="#3a3748"/></svg></span>
</div>
<div class="rdiv" style="top:953.6px;width:1459px"></div>
<div class="tr" style="top:954.7px">
<svg class="exp" width="8" height="12" viewBox="0 0 8 12"><path d="M1.5 1 L6.3 6 L1.5 11" fill="none" stroke="#8e8ba5" stroke-width="1.8"/></svg>
<span class="kn">수분크림<svg class="ci" width="13" height="13" viewBox="0 0 13 13"><path d="M1.2 0.8 V12 H11.8" fill="none" stroke="#d83b7d" stroke-width="1.5"/><path d="M3.4 7.2 L6.1 4.2 L8.6 6.0 L11.6 3.0" fill="none" stroke="#d83b7d" stroke-width="1.5" stroke-linejoin="round" stroke-linecap="round"/></svg></span>
<span class="n1">60,160</span><span class="n2">712,300</span>
<span class="pc dn">-23%</span>
<span class="sp"><svg class="spk" width="46" height="24" viewBox="0 0 46 24"><path d="M1.2 2.4 L4.9 5.7 L7.6 6.3 L12.3 8.9 L16.7 20.0 L20.6 18.5 L24.5 18.3 L28.1 6.5 L32.0 4.0 L36.3 8.1 L39.4 8.3 L44.0 12.0 L44.0 22.2 L1.2 22.2 Z" fill="url(#sg)"/><path d="M1.2 2.4 L4.9 5.7 L7.6 6.3 L12.3 8.9 L16.7 20.0 L20.6 18.5 L24.5 18.3 L28.1 6.5 L32.0 4.0 L36.3 8.1 L39.4 8.3 L44.0 12.0" fill="none" stroke="#a197f1" stroke-width="1.6" stroke-linejoin="round" stroke-linecap="round"/></svg></span>
<span class="cpc">1.7</span>
<span class="cmp"><i style="background:#f0642e"></i>100</span>
<span class="bds"><span class="bdg bt">T</span></span>
<span class="more"><svg width="13" height="4" viewBox="0 0 13 4"><circle cx="2" cy="2" r="1.3" fill="#3a3748"/><circle cx="6.5" cy="2" r="1.3" fill="#3a3748"/><circle cx="11" cy="2" r="1.3" fill="#3a3748"/></svg></span>
</div>
<div class="rdiv" style="top:1000.5px;width:1459px"></div>
<div id="colshade"></div>
<div class="tr" style="top:1001.6px"><svg class="exp" width="8" height="12" viewBox="0 0 8 12"><path d="M1.5 1 L6.3 6 L1.5 11" fill="none" stroke="#8e8ba5" stroke-width="1.8"/></svg><span class="kn">여드름 흉터<svg class="ci" width="13" height="13" viewBox="0 0 13 13"><path d="M1.2 0.8 V12 H11.8" fill="none" stroke="#d83b7d" stroke-width="1.5"/><path d="M3.4 7.2 L6.1 4.2 L8.6 6.0 L11.6 3.0" fill="none" stroke="#d83b7d" stroke-width="1.5" stroke-linejoin="round" stroke-linecap="round"/></svg></span><span class="sp" style="opacity:.9"><svg class="spk" width="46" height="24" viewBox="0 0 46 24"><path d="M1.0 4.0 L4.0 8.0 L7.0 12.0 L10.0 13.0 L20.0 14.0 L44.0 15.0 L44.0 24.0 L1.0 24.0 Z" fill="url(#sg)"/><path d="M1.0 4.0 L4.0 8.0 L7.0 12.0 L10.0 13.0 L20.0 14.0 L44.0 15.0" fill="none" stroke="#a197f1" stroke-width="1.6" stroke-linejoin="round" stroke-linecap="round"/></svg></span><span class="bds"><span class="bdg bb">T</span></span><span class="more"></span></div>
</body></html>
